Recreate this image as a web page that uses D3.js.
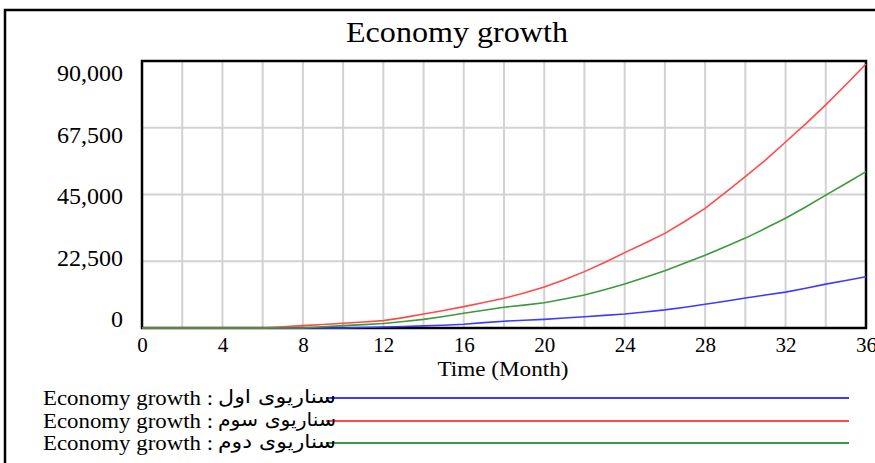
<!DOCTYPE html>
<html><head><meta charset="utf-8">
<script src="https://cdn.jsdelivr.net/npm/d3@7"></script>
<style>
html,body{margin:0;padding:0;background:#fff;}
svg{display:block;}
</style></head>
<body>
<svg id="chart" width="875" height="463"></svg>
<script>
const months = d3.range(0, 37);
const scenario1 = [0,0,0,0,0,0,0,0,0,0,0,150,350,500,700,950,1250,1800,2300,2600,2900,3350,3800,4250,4700,5400,6100,7000,8000,9000,10100,11100,12100,13400,14800,16000,17300];
const scenario3 = [0,0,0,0,0,0,0,400,800,1200,1600,2000,2500,3500,4700,5900,7200,8600,10000,11800,13800,16300,19000,22100,25400,28600,31900,36000,40300,45600,51000,56600,62700,68800,75200,82000,89000];
const scenario2 = [0,0,0,0,0,0,0,0,0,400,800,1150,1500,2200,2900,3900,4950,6000,7000,7700,8500,9800,11100,12900,14800,17000,19300,21900,24500,27400,30300,33600,37000,40800,44800,48700,52700];
const seriesPrefix = "Economy growth :";
const scenarioLabels = ["سناریوی اول", "سناریوی سوم", "سناریوی دوم"];
const seriesColors = ["#3c3cff", "#ff4a4a", "#3c9a3c"];
const xTicks = [0,4,8,12,16,20,24,28,32,36];
const xGrid = d3.range(0, 37, 2);
const yTicks = [0,22500,45000,67500,90000];
const title = "Economy growth";
const xTitle = "Time (Month)";

const series = [scenario1, scenario3, scenario2];

const svg = d3.select("#chart");
const serif = "'Liberation Serif','Times New Roman','DejaVu Serif',serif";

// outer frame
svg.append("path").attr("d", "M5,463 L5,10 L875,10")
  .attr("fill","none").attr("stroke","#000").attr("stroke-width",2.5);

const L = 142, R = 866, T = 61, B = 328;
const x = d3.scaleLinear().domain([0,36]).range([L,R]);
const y = d3.scaleLinear().domain([0,90000]).range([B,T]);
const yLab = d3.scaleLinear().domain([0,90000]).range([319,73]);

// title
svg.append("text").attr("x", 457).attr("y", 42).attr("text-anchor","middle")
  .attr("font-family", serif).attr("font-size", 29).attr("fill","#000")
  .attr("textLength", 222).attr("lengthAdjust","spacingAndGlyphs")
  .text(title);

// grid
const g = svg.append("g");
g.selectAll("line.vg").data(xGrid).join("line").attr("class","vg")
  .attr("x1", d=>x(d)).attr("x2", d=>x(d)).attr("y1", T).attr("y2", B)
  .attr("stroke","#d2d2d2").attr("stroke-width",2);
g.selectAll("line.hg").data(yTicks).join("line").attr("class","hg")
  .attr("x1", L).attr("x2", R).attr("y1", d=>y(d)).attr("y2", d=>y(d))
  .attr("stroke","#d2d2d2").attr("stroke-width",2);

// plot border
svg.append("rect").attr("x", L).attr("y", T).attr("width", R-L).attr("height", B-T)
  .attr("fill","none").attr("stroke","#000").attr("stroke-width",2.5);

// y axis labels
const yAxis = svg.append("g").attr("transform", `translate(${L-19},0)`)
  .call(d3.axisLeft(yLab).tickValues(yTicks).tickSize(0).tickPadding(0).tickFormat(d3.format(",")));
yAxis.select(".domain").remove();
yAxis.selectAll("text").attr("font-family", serif).attr("font-size", 24).attr("fill","#000");

// x axis labels
const xAxis = svg.append("g").attr("transform", `translate(0,${B})`)
  .call(d3.axisBottom(x).tickValues(xTicks).tickSize(0).tickPadding(9));
xAxis.select(".domain").remove();
xAxis.selectAll("text").attr("font-family", serif).attr("font-size", 21).attr("fill","#000");

svg.append("text").attr("x", 503).attr("y", 376).attr("text-anchor","middle")
  .attr("font-family", serif).attr("font-size", 20).attr("fill","#000")
  .attr("textLength", 131).attr("lengthAdjust","spacingAndGlyphs").text(xTitle);

// lines
const line = d3.line().x((d,i)=>x(months[i])).y(d=>y(d));
series.forEach((s,i)=>{
  svg.append("path").datum(s).attr("d", line).attr("fill","none")
    .attr("stroke", seriesColors[i]).attr("stroke-width", 1.6);
});

// legend
const legY = [398, 421, 443];
scenarioLabels.forEach((n,i)=>{
  svg.append("line").attr("x1", 326).attr("x2", 849).attr("y1", legY[i]).attr("y2", legY[i])
    .attr("stroke", seriesColors[i]).attr("stroke-width", 1.8);
  svg.append("text").attr("x", 43).attr("y", legY[i]+7)
    .attr("font-family", serif).attr("font-size", 20).attr("fill","#000")
    .attr("textLength", 170).attr("lengthAdjust","spacingAndGlyphs")
    .text(seriesPrefix);
  svg.append("text").attr("x", 336).attr("y", legY[i]+5).attr("text-anchor","end")
    .attr("font-family", "'DejaVu Sans','Noto Sans',sans-serif").attr("font-size", 19).attr("fill","#000")
    .attr("textLength", 118).attr("lengthAdjust","spacingAndGlyphs")
    .text(n);
});
</script>
</body></html>
